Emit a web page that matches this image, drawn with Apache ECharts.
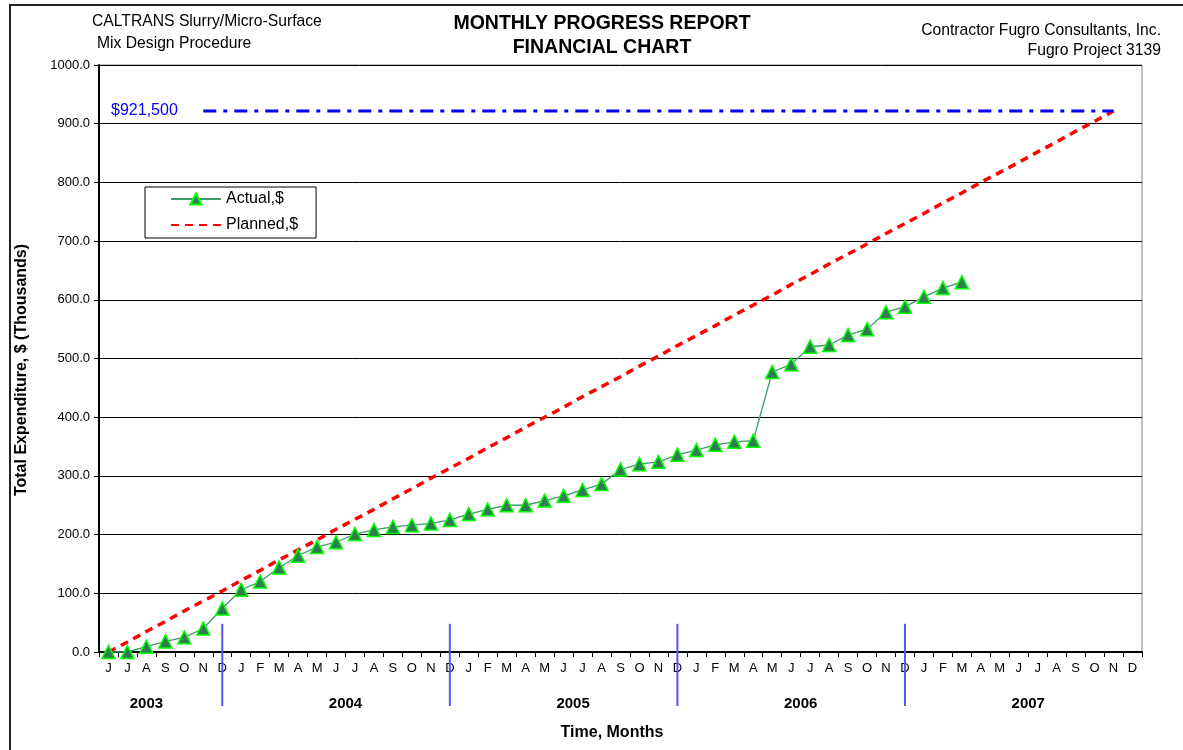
<!DOCTYPE html>
<html><head><meta charset="utf-8">
<script src="https://cdn.jsdelivr.net/npm/echarts@6/dist/echarts.min.js"></script>
<style>html,body{margin:0;padding:0;background:#fff}#c{width:1183px;height:750px}</style>
</head><body><div id="c"></div>
<script>
// ---- data ----
const years = [2003, 2004, 2005, 2006, 2007];
const monthLetters = ['J','F','M','A','M','J','J','A','S','O','N','D'];
const startMonth2003 = 6; // June 2003
const actual = [0,0,9,18,25,40,74,
  106,120,144,164,179,187,201,208,213,216,219,225,
  235,243,250,250,258,266,276,286,311,320,324,336,
  344,353,358,360,477,490,520,523,540,550,579,588,
  605,620,630];
const planned = [0,17,35,52,70,87,104,
  122,139,157,174,191,209,226,243,261,278,296,313,
  330,348,365,383,400,417,435,452,469,487,504,522,
  539,556,574,591,608,626,643,661,678,695,713,730,
  747,765,782,800,817,834,852,869,887,904,921.5];
const budgetValue = 921.5;
const budgetLabel = '$921,500';
const budgetStart = '2003-11';
const budgetEnd = '2007-11';
const dividerMonths = ['2003-12','2004-12','2005-12','2006-12'];
const dividerTop = 48;
const yearLabelSpans = [['2003-06','2003-10'],['2004-01','2004-12'],['2005-01','2005-12'],['2006-01','2006-12'],['2007-01','2007-12']];
const yTicks = [0,100,200,300,400,500,600,700,800,900,1000];

// ---- categories ----
const categories = [];
years.forEach(y => {
  for (let m = (y === 2003 ? startMonth2003 : 1); m <= 12; m++) {
    categories.push(y + '-' + String(m).padStart(2, '0'));
  }
});

const FF = "'Liberation Sans', Arial, sans-serif";
const chart = echarts.init(document.getElementById('c'), null, {renderer: 'canvas'});

function txt(text, x, y, opts) {
  return Object.assign({
    type: 'text', x: x, y: y, silent: true,
    style: Object.assign({text: text, fontFamily: FF, fontSize: 15.7, fill: '#000', align: 'left', verticalAlign: 'middle'}, opts || {})
  });
}

const option = {
  backgroundColor: '#fff',
  animation: false,
  textStyle: {fontFamily: FF},
  grid: {left: 99, right: 41, top: 65, bottom: 98, show: true, borderColor: '#808080', borderWidth: 1},
  legend: {
    data: ['Actual,$', {name: 'Planned,$', itemStyle: {opacity: 0}}],
    orient: 'vertical', left: 145, top: 187,
    itemWidth: 50, itemHeight: 14, itemGap: 10,
    padding: [4, 18, 5, 25],
    borderColor: '#000', borderWidth: 1, backgroundColor: '#fff',
    textStyle: {fontSize: 16, color: '#000', fontFamily: FF},
    selectedMode: false
  },
  xAxis: {
    type: 'category', data: categories, boundaryGap: true,
    axisLine: {lineStyle: {color: '#000', width: 2}},
    axisTick: {show: true, length: 5, lineStyle: {color: '#000'}},
    axisLabel: {interval: 0, margin: 10, fontSize: 13, color: '#000', fontFamily: FF,
      formatter: v => monthLetters[parseInt(v.slice(5), 10) - 1]},
    splitLine: {show: false}
  },
  yAxis: {
    type: 'value', min: yTicks[0], max: yTicks[yTicks.length - 1], interval: 100,
    axisLine: {show: true, lineStyle: {color: '#000', width: 2}},
    axisTick: {show: true, length: 5, lineStyle: {color: '#000'}},
    axisLabel: {margin: 9, fontSize: 13, color: '#000', fontFamily: FF, formatter: v => v.toFixed(1)},
    splitLine: {show: true, lineStyle: {color: '#000', width: 1}}
  },
  series: [
    {
      name: 'Planned,$', type: 'line', data: planned, symbol: 'none', z: 2,
      itemStyle: {color: '#ff0000'},
      lineStyle: {color: '#ff0000', width: 3.5, type: [8, 6]}
    },
    {
      name: 'Actual,$', type: 'line', data: actual, z: 4,
      symbol: 'triangle', symbolSize: 13,
      itemStyle: {color: '#2e7d50', borderColor: '#00ff00', borderWidth: 1.5},
      lineStyle: {color: '#3d9a6a', width: 1.3}
    },
    {
      name: 'Budget', type: 'line', z: 3,
      symbol: 'circle', symbolSize: 1, showSymbol: true,
      itemStyle: {color: 'rgba(0,0,0,0)'},
      lineStyle: {color: '#0000ff', width: 3, type: [13, 7, 4, 7]},
      data: [
        {value: [budgetStart, budgetValue], label: {show: true, position: 'left', distance: 25,
          formatter: budgetLabel, color: '#0000ff', fontSize: 16, fontFamily: FF}},
        {value: [budgetEnd, budgetValue]}
      ]
    },
    {
      name: 'dividers', type: 'custom', clip: false, silent: true, z: 5,
      data: dividerMonths.map(m => [m, dividerTop]),
      renderItem: function (params, api) {
        const top = api.coord([api.value(0), api.value(1)]);
        const base = api.coord([api.value(0), 0]);
        return {type: 'line', shape: {x1: top[0], y1: top[1], x2: top[0], y2: base[1] + 54},
          style: {stroke: '#5555ff', lineWidth: 2}};
      }
    },
    {
      name: 'years', type: 'custom', clip: false, silent: true, z: 5,
      encode: {x: [0, 1], y: 2},
      data: yearLabelSpans.map(s => [s[0], s[1], 0]),
      renderItem: function (params, api) {
        const a = api.coord([api.value(0), 0]);
        const b = api.coord([api.value(1), 0]);
        return {type: 'text', x: (a[0] + b[0]) / 2, y: a[1] + 52,
          style: {text: String(years[params.dataIndex]), fontFamily: FF, fontSize: 15, fontWeight: 'bold',
            fill: '#000', align: 'center', verticalAlign: 'middle'}};
      }
    }
  ],
  graphic: [
    {type: 'rect', silent: true, shape: {x: 10, y: 5, width: 1200, height: 800},
      style: {fill: 'none', stroke: '#222', lineWidth: 2}},
    txt('CALTRANS Slurry/Micro-Surface', 92, 22),
    txt('Mix Design Procedure', 97, 44),
    txt('MONTHLY PROGRESS REPORT', 602, 24, {align: 'center', fontWeight: 'bold', fontSize: 19.5}),
    txt('FINANCIAL CHART', 602, 48, {align: 'center', fontWeight: 'bold', fontSize: 19.5}),
    txt('Contractor Fugro Consultants, Inc.', 1161, 31, {align: 'right'}),
    txt('Fugro Project 3139', 1161, 51, {align: 'right'}),
    Object.assign(txt('Total Expenditure, $ (Thousands)', 22, 370, {align: 'center', fontWeight: 'bold', fontSize: 16}), {rotation: Math.PI / 2}),
    txt('Time, Months', 612, 733, {align: 'center', fontWeight: 'bold', fontSize: 16})
  ]
};
chart.setOption(option);
</script>
</body></html>
